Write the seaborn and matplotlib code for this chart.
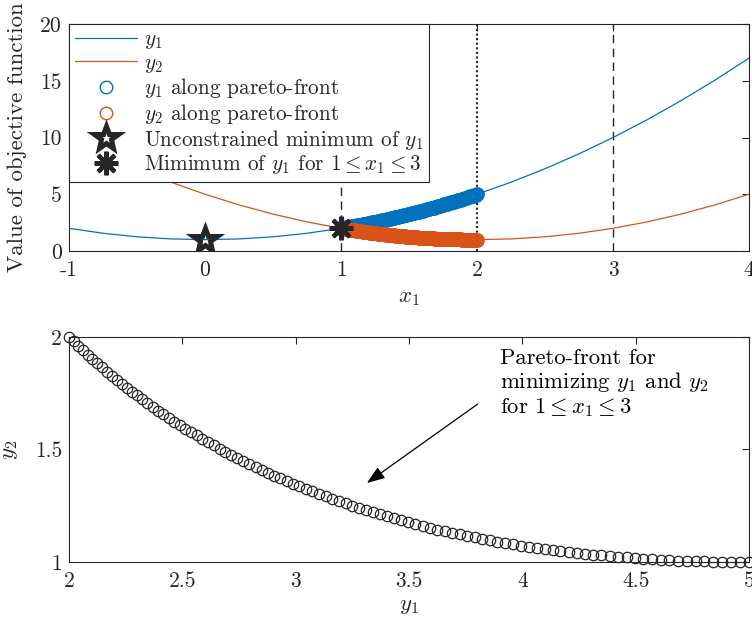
import matplotlib
matplotlib.use("Agg")
import matplotlib.pyplot as plt
from matplotlib.markers import MarkerStyle
import seaborn as sns
import pandas as pd

# Objective curves sampled over the design variable x1
x_grid = [-1, -0.75, -0.5, -0.25, 0, 0.25, 0.5, 0.75, 1, 1.25, 1.5, 1.75, 2,
          2.25, 2.5, 2.75, 3, 3.25, 3.5, 3.75, 4]
y1_curve = [2, 1.5625, 1.25, 1.0625, 1, 1.0625, 1.25, 1.5625, 2, 2.5625, 3.25,
            4.0625, 5, 6.0625, 7.25, 8.5625, 10, 11.5625, 13.25, 15.0625, 17]
y2_curve = [10, 8.5625, 7.25, 6.0625, 5, 4.0625, 3.25, 2.5625, 2, 1.5625, 1.25,
            1.0625, 1, 1.0625, 1.25, 1.5625, 2, 2.5625, 3.25, 4.0625, 5]

# Pareto-optimal designs
pareto_x1 = [
    1.00, 1.01, 1.02, 1.03, 1.04, 1.05, 1.06, 1.07, 1.08, 1.09,
    1.10, 1.11, 1.12, 1.13, 1.14, 1.15, 1.16, 1.17, 1.18, 1.19,
    1.20, 1.21, 1.22, 1.23, 1.24, 1.25, 1.26, 1.27, 1.28, 1.29,
    1.30, 1.31, 1.32, 1.33, 1.34, 1.35, 1.36, 1.37, 1.38, 1.39,
    1.40, 1.41, 1.42, 1.43, 1.44, 1.45, 1.46, 1.47, 1.48, 1.49,
    1.50, 1.51, 1.52, 1.53, 1.54, 1.55, 1.56, 1.57, 1.58, 1.59,
    1.60, 1.61, 1.62, 1.63, 1.64, 1.65, 1.66, 1.67, 1.68, 1.69,
    1.70, 1.71, 1.72, 1.73, 1.74, 1.75, 1.76, 1.77, 1.78, 1.79,
    1.80, 1.81, 1.82, 1.83, 1.84, 1.85, 1.86, 1.87, 1.88, 1.89,
    1.90, 1.91, 1.92, 1.93, 1.94, 1.95, 1.96, 1.97, 1.98, 1.99,
    2.00]
pareto_y1 = [
    2.000, 2.020, 2.040, 2.061, 2.082, 2.103, 2.124, 2.145, 2.166, 2.188,
    2.210, 2.232, 2.254, 2.277, 2.300, 2.323, 2.346, 2.369, 2.392, 2.416,
    2.440, 2.464, 2.488, 2.513, 2.538, 2.563, 2.588, 2.613, 2.638, 2.664,
    2.690, 2.716, 2.742, 2.769, 2.796, 2.823, 2.850, 2.877, 2.904, 2.932,
    2.960, 2.988, 3.016, 3.045, 3.074, 3.103, 3.132, 3.161, 3.190, 3.220,
    3.250, 3.280, 3.310, 3.341, 3.372, 3.403, 3.434, 3.465, 3.496, 3.528,
    3.560, 3.592, 3.624, 3.657, 3.690, 3.723, 3.756, 3.789, 3.822, 3.856,
    3.890, 3.924, 3.958, 3.993, 4.028, 4.063, 4.098, 4.133, 4.168, 4.204,
    4.240, 4.276, 4.312, 4.349, 4.386, 4.423, 4.460, 4.497, 4.534, 4.572,
    4.610, 4.648, 4.686, 4.725, 4.764, 4.803, 4.842, 4.881, 4.920, 4.960,
    5.000]
pareto_y2 = [
    2.000, 1.980, 1.960, 1.941, 1.922, 1.903, 1.884, 1.865, 1.846, 1.828,
    1.810, 1.792, 1.774, 1.757, 1.740, 1.723, 1.706, 1.689, 1.672, 1.656,
    1.640, 1.624, 1.608, 1.593, 1.578, 1.563, 1.548, 1.533, 1.518, 1.504,
    1.490, 1.476, 1.462, 1.449, 1.436, 1.423, 1.410, 1.397, 1.384, 1.372,
    1.360, 1.348, 1.336, 1.325, 1.314, 1.303, 1.292, 1.281, 1.270, 1.260,
    1.250, 1.240, 1.230, 1.221, 1.212, 1.203, 1.194, 1.185, 1.176, 1.168,
    1.160, 1.152, 1.144, 1.137, 1.130, 1.123, 1.116, 1.109, 1.102, 1.096,
    1.090, 1.084, 1.078, 1.073, 1.068, 1.063, 1.058, 1.053, 1.048, 1.044,
    1.040, 1.036, 1.032, 1.029, 1.026, 1.023, 1.020, 1.017, 1.014, 1.012,
    1.010, 1.008, 1.006, 1.005, 1.004, 1.003, 1.002, 1.001, 1.000, 1.000,
    1.000]

# Special points and bounds
unconstrained_min = (0, 1)
constrained_min = (1, 2)
bound_dashed = [1, 3]
bound_dotted = [2]

top_xticks = [-1, 0, 1, 2, 3, 4]
top_yticks = [0, 5, 10, 15, 20]
bot_xticks = [2, 2.5, 3, 3.5, 4, 4.5, 5]
bot_yticks = [1, 1.5, 2]

BLUE = "#0072BD"
ORANGE = "#D95319"
DARK = "#262626"

sns.set_theme(style="white")
plt.rcParams["font.family"] = ["cmr10", "DejaVu Serif"]
plt.rcParams["mathtext.fontset"] = "cm"
plt.rcParams["axes.unicode_minus"] = False
plt.rcParams["axes.formatter.use_mathtext"] = True

curves = pd.DataFrame({"x1": x_grid, "y1": y1_curve, "y2": y2_curve})
front = pd.DataFrame({"x1": pareto_x1, "y1": pareto_y1, "y2": pareto_y2})

fig = plt.figure(figsize=(7.52, 6.27), dpi=100)
ax1 = fig.add_axes([0.0918, 0.5997, 0.9043, 0.362])
ax2 = fig.add_axes([0.0918, 0.1037, 0.9043, 0.3589])

# ---- top panel: objectives versus x1 ----
for xv in bound_dashed:
    l = ax1.axvline(xv, color=DARK, lw=1.0, zorder=1.5)
    l.set_dashes([6, 4])
for xv in bound_dotted:
    ax1.axvline(xv, color=DARK, lw=1.5, ls=(0, (1, 1.2)), zorder=1.5)

sns.lineplot(data=curves, x="x1", y="y1", ax=ax1, color=BLUE, lw=0.9,
             label="$y_1$", zorder=2)
sns.lineplot(data=curves, x="x1", y="y2", ax=ax1, color=ORANGE, lw=0.9,
             label="$y_2$", zorder=2)
sns.lineplot(data=front, x="x1", y="y1", ax=ax1, linestyle="", marker="o",
             markersize=9, markerfacecolor="none", markeredgecolor=BLUE,
             markeredgewidth=1.6, color=BLUE,
             label="$y_1$ along pareto-front", zorder=3)
sns.lineplot(data=front, x="x1", y="y2", ax=ax1, linestyle="", marker="o",
             markersize=9, markerfacecolor="none", markeredgecolor=ORANGE,
             markeredgewidth=1.6, color=ORANGE,
             label="$y_2$ along pareto-front", zorder=3)
star = MarkerStyle("*", fillstyle="none", joinstyle="miter")
sns.lineplot(x=[unconstrained_min[0]], y=[unconstrained_min[1]], ax=ax1,
             linestyle="", marker=star, markersize=18, markerfacecolor="none",
             markeredgecolor=DARK, markeredgewidth=3.6, color=DARK,
             label="Unconstrained minimum of $y_1$", zorder=4)
sns.lineplot(x=[constrained_min[0]], y=[constrained_min[1]], ax=ax1,
             linestyle="", marker=(8, 2, 0), markersize=17,
             markeredgecolor=DARK, markeredgewidth=3.0, color=DARK,
             label=r"Mimimum of $y_1$ for $1 \leq x_1 \leq 3$", zorder=4)

ax1.set_xlim(-1, 4)
ax1.set_ylim(0, 20)
ax1.set_xticks(top_xticks)
ax1.set_xticklabels([str(v) for v in top_xticks])
ax1.set_yticks(top_yticks)
ax1.set_yticklabels([str(v) for v in top_yticks])
ax1.set_xlabel("$x_1$", fontsize=16.5)
ax1.set_ylabel("Value of objective function", fontsize=16.5)

handles, labels = ax1.get_legend_handles_labels()
leg = ax1.legend(handles, labels, loc="upper left", bbox_to_anchor=(0, 1),
                 borderaxespad=0, fontsize=15.3, frameon=True, fancybox=False,
                 framealpha=1, edgecolor=DARK, handlelength=2.9,
                 handletextpad=0.33, labelspacing=0.08, borderpad=0.28)
leg.get_frame().set_linewidth(0.8)
leg.set_zorder(10)
for h in leg.legend_handles[2:4]:
    h.set_markeredgewidth(1.0)

# ---- bottom panel: Pareto front in objective space ----
sns.lineplot(data=front, x="y1", y="y2", ax=ax2, linestyle="", marker="o",
             markersize=7.5, markerfacecolor="none", markeredgecolor=DARK,
             markeredgewidth=0.9, color=DARK, sort=False, clip_on=False,
             legend=False)
ax2.set_xlim(2, 5)
ax2.set_ylim(1, 2)
ax2.set_xticks(bot_xticks)
ax2.set_xticklabels([f"{v:g}" for v in bot_xticks])
ax2.set_yticks(bot_yticks)
ax2.set_yticklabels([f"{v:g}" for v in bot_yticks])
ax2.set_xlabel("$y_1$", fontsize=16.5)
ax2.set_ylabel("$y_2$", fontsize=16.5)

ax2.annotate("", xy=(0.438, 0.351), xycoords="axes fraction",
             xytext=(0.601, 0.702), textcoords="axes fraction",
             arrowprops=dict(arrowstyle="-|>,head_length=0.55,head_width=0.2",
                             mutation_scale=20, color="black", lw=0.9,
                             shrinkA=0, shrinkB=0))
ax2.text(0.634, 0.95,
         "Pareto-front for\nminimizing $y_1$ and $y_2$\nfor $1 \\leq x_1 \\leq 3$",
         transform=ax2.transAxes, ha="left", va="top", fontsize=16.3,
         linespacing=1.12, color="black")

for ax in (ax1, ax2):
    for sp in ax.spines.values():
        sp.set_color(DARK)
        sp.set_linewidth(0.8)
    ax.tick_params(axis="both", direction="in", top=True, right=True,
                   length=5, width=0.8, colors=DARK, labelsize=15.5)
    ax.tick_params(axis="x", pad=7)
    ax.tick_params(axis="y", pad=5)
    ax.grid(False)

ax1.xaxis.set_label_coords(0.5, -0.165)
ax1.yaxis.set_label_coords(-0.062, 0.5)
ax2.xaxis.set_label_coords(0.5, -0.155)
ax2.yaxis.set_label_coords(-0.072, 0.5)

fig.savefig("out.png", dpi=100)
